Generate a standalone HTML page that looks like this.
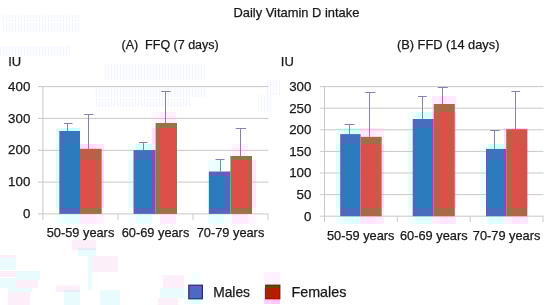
<!DOCTYPE html>
<html><head><meta charset="utf-8"><style>
html,body{margin:0;padding:0;background:#fff;}
body{width:550px;height:305px;overflow:hidden;}
svg{display:block;font-family:"Liberation Sans",sans-serif;}
.t{filter:grayscale(1)}
</style></head><body>
<svg width="550" height="305" viewBox="0 0 550 305" shape-rendering="auto">
<rect width="550" height="305" fill="#fff"/>
<defs><pattern id="gp" width="3" height="4" patternUnits="userSpaceOnUse"><rect width="1" height="4" fill="#e2e6fb"/><rect x="1" width="2" height="4" fill="#fafaff"/></pattern></defs>
<rect x="2" y="15" width="78" height="7" fill="url(#gp)" opacity="0.4"/>
<rect x="2" y="23" width="78" height="9" fill="url(#gp)" opacity="0.4"/>
<rect x="0" y="46" width="70" height="10" fill="url(#gp)" opacity="0.4"/>
<rect x="104" y="64" width="102" height="16" fill="url(#gp)" opacity="0.4"/>
<rect x="95" y="88" width="112" height="9" fill="url(#gp)" opacity="0.4"/>
<rect x="95" y="98" width="95" height="9" fill="url(#gp)" opacity="0.4"/>
<rect x="265" y="80" width="15" height="15" fill="url(#gp)" opacity="0.4"/>
<rect x="258" y="95" width="13" height="17" fill="url(#gp)" opacity="0.4"/>
<path d="M38 86.6H268.5" stroke="#c9c9c9" stroke-width="1"/>
<path d="M38 118.4H268.5" stroke="#c9c9c9" stroke-width="1"/>
<path d="M38 150.3H268.5" stroke="#c9c9c9" stroke-width="1"/>
<path d="M38 182.1H268.5" stroke="#c9c9c9" stroke-width="1"/>
<path d="M38 213.9H268.5" stroke="#c9c9c9" stroke-width="1"/>
<path d="M42.9 86.1V220" stroke="#c9c9c9" stroke-width="1"/>
<path d="M118 213.9V220" stroke="#c9c9c9" stroke-width="1"/>
<path d="M193 213.9V220" stroke="#c9c9c9" stroke-width="1"/>
<path d="M268 213.9V220" stroke="#c9c9c9" stroke-width="1"/>
<path d="M320 86.6H543.5" stroke="#c9c9c9" stroke-width="1"/>
<path d="M320 108.2H543.5" stroke="#c9c9c9" stroke-width="1"/>
<path d="M320 129.8H543.5" stroke="#c9c9c9" stroke-width="1"/>
<path d="M320 151.4H543.5" stroke="#c9c9c9" stroke-width="1"/>
<path d="M320 173.0H543.5" stroke="#c9c9c9" stroke-width="1"/>
<path d="M320 194.6H543.5" stroke="#c9c9c9" stroke-width="1"/>
<path d="M320 216.2H543.5" stroke="#c9c9c9" stroke-width="1"/>
<path d="M324.5 86.1V222" stroke="#c9c9c9" stroke-width="1"/>
<path d="M397.3 216.2V222" stroke="#c9c9c9" stroke-width="1"/>
<path d="M470.2 216.2V222" stroke="#c9c9c9" stroke-width="1"/>
<path d="M543 216.2V222" stroke="#c9c9c9" stroke-width="1"/>
<rect x="59.3" y="131" width="20.7" height="82.9" fill="#2b7cbd"/>
<rect x="80" y="148.8" width="21.7" height="65.1" fill="#dc5049"/>
<path d="M67.5 123.5V131" stroke="#8583b2" stroke-width="1"/>
<path d="M64 123.5H72.5" stroke="#8583b2" stroke-width="1"/>
<path d="M88.5 114.5V148.8" stroke="#8583b2" stroke-width="1"/>
<path d="M84.2 114.5H93.4" stroke="#8583b2" stroke-width="1"/>
<rect x="133.5" y="150.1" width="22.1" height="63.8" fill="#2b7cbd"/>
<rect x="155.6" y="123" width="21.4" height="90.9" fill="#dc5049"/>
<path d="M143.5 142.5V150.1" stroke="#8583b2" stroke-width="1"/>
<path d="M139 142.5H147.5" stroke="#8583b2" stroke-width="1"/>
<path d="M165.5 91.5V123" stroke="#8583b2" stroke-width="1"/>
<path d="M161.2 91.5H170.8" stroke="#8583b2" stroke-width="1"/>
<rect x="208.8" y="171.5" width="21.6" height="42.4" fill="#2b7cbd"/>
<rect x="230.4" y="156" width="21.6" height="57.9" fill="#dc5049"/>
<path d="M220.5 159.5V171.5" stroke="#8583b2" stroke-width="1"/>
<path d="M215.6 159.5H224.5" stroke="#8583b2" stroke-width="1"/>
<path d="M240.5 128.5V156" stroke="#8583b2" stroke-width="1"/>
<path d="M235.7 128.5H246.1" stroke="#8583b2" stroke-width="1"/>
<rect x="340.2" y="134.1" width="20.4" height="82.1" fill="#2b7cbd"/>
<rect x="360.6" y="136.8" width="21.1" height="79.4" fill="#dc5049"/>
<path d="M349.5 124.5V134.1" stroke="#8583b2" stroke-width="1"/>
<path d="M344.6 124.5H354.6" stroke="#8583b2" stroke-width="1"/>
<path d="M369.5 92.5V136.8" stroke="#8583b2" stroke-width="1"/>
<path d="M365 92.5H375.4" stroke="#8583b2" stroke-width="1"/>
<rect x="412.7" y="119" width="21.0" height="97.2" fill="#2b7cbd"/>
<rect x="433.7" y="104" width="21.1" height="112.2" fill="#dc5049"/>
<path d="M422.5 96.5V119" stroke="#8583b2" stroke-width="1"/>
<path d="M418 96.5H426.8" stroke="#8583b2" stroke-width="1"/>
<path d="M442.5 87.5V104" stroke="#8583b2" stroke-width="1"/>
<path d="M437.7 87.5H447.8" stroke="#8583b2" stroke-width="1"/>
<rect x="486" y="148.9" width="20.2" height="67.3" fill="#2b7cbd"/>
<rect x="506.2" y="129.2" width="21.1" height="87.0" fill="#dc5049"/>
<path d="M494.5 130.5V148.9" stroke="#8583b2" stroke-width="1"/>
<path d="M490.2 130.5H499.6" stroke="#8583b2" stroke-width="1"/>
<path d="M515.5 91.5V129.2" stroke="#8583b2" stroke-width="1"/>
<path d="M511.4 91.5H520" stroke="#8583b2" stroke-width="1"/>
<rect x="188.8" y="285.2" width="13.6" height="13.6" fill="#3a74c4" stroke="#232f70" stroke-width="1.2"/>
<rect x="265.6" y="285" width="14.4" height="14" fill="#f00000" stroke="#701008" stroke-width="0.8"/>
<g shape-rendering="crispEdges"><path fill="#feeafe" d="M432 96h8v8h-8zM448 96h8v8h-8zM432 104h1v3h-1zM455 104h1v3h-1zM432 109h1v3h-1zM455 109h1v3h-1zM360 128h8v1h-8zM360 131h8v3h-8zM361 134h7v2h-7z"/><path fill="#fee6fe" d="M440 96h2v8h-2zM443 96h5v8h-5zM96 144h8v4h-8zM102 148h2v1h-2zM102 151h2v9h-2zM252 160h4v21h-4zM252 183h4v25h-4zM520 217h8v7h-8z"/><path fill="#ba68b2" d="M442 96h1v8h-1z"/><path fill="#fec6c8" d="M433 104h1v3h-1zM433 109h1v3h-1z"/><path fill="#bc846c" d="M454 104h1v3h-1zM454 109h1v3h-1z"/><path fill="#fedaee" d="M432 107h1v1h-1zM360 130h8v1h-8z"/><path fill="#f2babc" d="M433 107h1v1h-1z"/><path fill="#ba8268" d="M454 107h1v1h-1zM454 215h1v1h-1z"/><path fill="#fed8ee" d="M455 107h1v1h-1zM368 130h1v1h-1zM370 130h6v1h-6zM455 215h1v1h-1z"/><path fill="#fec4d8" d="M432 108h1v1h-1zM455 108h1v1h-1zM360 129h8v1h-8z"/><path fill="#e2aaac" d="M433 108h1v1h-1z"/><path fill="#b67e64" d="M454 108h1v1h-1z"/><path fill="#a06e48" d="M434 104h6v8h-6zM361 137h7v7h-7z"/><path fill="#aa6848" d="M440 104h8v8h-8zM96 149h5v11h-5zM248 160h4v48h-4z"/><path fill="#a26c48" d="M448 104h6v8h-6z"/><path fill="#fef6fe" d="M152 112h8v5h-8zM152 119h8v4h-8zM152 123h3v5h-3zM252 208h4v5h-4zM248 215h8v9h-8z"/><path fill="#feeefe" d="M160 112h5v5h-5zM166 112h10v5h-10zM160 119h5v4h-5zM166 119h10v4h-10zM376 128h8v1h-8zM376 131h8v5h-8zM382 136h2v8h-2zM432 217h8v7h-8z"/><path fill="#fef0f8" d="M152 117h8v1h-8z"/><path fill="#fee8f8" d="M160 117h5v1h-5zM166 117h10v1h-10z"/><path fill="#dec4ce" d="M152 118h8v1h-8z"/><path fill="#ecbece" d="M160 118h5v1h-5zM166 118h10v1h-10z"/><path fill="#f0fefe" d="M408 112h8v7h-8zM408 119h4v9h-4zM56 208h3v5h-3zM408 208h4v7h-4zM56 215h8v9h-8zM408 217h8v7h-8z"/><path fill="#dafefe" d="M416 112h6v7h-6zM423 112h9v7h-9z"/><path fill="#6492b2" d="M422 112h1v7h-1z"/><path fill="#fedafe" d="M432 112h1v7h-1zM382 144h2v6h-2zM382 152h2v20h-2zM102 160h2v21h-2zM382 174h2v20h-2zM102 183h2v25h-2zM382 196h2v12h-2z"/><path fill="#feb4c8" d="M433 112h1v7h-1z"/><path fill="#a870b2" d="M165 112h1v11h-1z"/><path fill="#dac4b6" d="M155 123h1v5h-1z"/><path fill="#8a7a48" d="M156 123h4v5h-4z"/><path fill="#987248" d="M160 123h16v5h-16zM376 137h5v7h-5z"/><path fill="#7c8048" d="M176 123h1v5h-1z"/><path fill="#5c62bc" d="M413 119h3v9h-3zM60 208h4v5h-4zM341 208h3v8h-3z"/><path fill="#466ebc" d="M416 119h16v9h-16z"/><path fill="#b236bc" d="M432 119h1v9h-1z"/><path fill="#d464a6" d="M433 119h1v9h-1z"/><path fill="#c05e48" d="M434 112h6v16h-6zM96 160h5v48h-5zM376 144h5v64h-5z"/><path fill="#ecfefe" d="M336 128h8v1h-8zM336 131h8v3h-8zM336 134h4v10h-4zM216 160h4v11h-4zM221 160h3v11h-3z"/><path fill="#d6fefe" d="M344 128h5v1h-5zM350 128h10v1h-10zM344 131h5v3h-5zM350 131h10v3h-10zM136 144h7v5h-7zM144 144h8v5h-8z"/><path fill="#fee8fe" d="M368 128h1v1h-1zM370 128h6v1h-6zM368 131h1v5h-1zM370 131h6v5h-6zM455 208h1v7h-1zM360 217h8v7h-8zM448 217h8v7h-8z"/><path fill="#e4fefe" d="M408 128h4v1h-4zM408 131h4v19h-4zM408 152h4v20h-4zM408 174h4v20h-4zM408 196h4v12h-4z"/><path fill="#b8daea" d="M412 128h1v1h-1zM412 131h1v19h-1zM412 152h1v20h-1zM412 174h1v20h-1zM412 196h1v12h-1z"/><path fill="#d066a6" d="M433 128h1v1h-1zM433 131h1v19h-1zM433 152h1v20h-1zM433 174h1v20h-1zM433 196h1v12h-1z"/><path fill="#fed4fe" d="M455 112h1v17h-1zM520 128h8v1h-8zM455 131h1v19h-1zM455 152h1v20h-1zM455 174h1v20h-1zM455 196h1v12h-1z"/><path fill="#fedcfe" d="M504 128h8v1h-8zM504 131h2v13h-2zM80 144h8v4h-8zM89 144h7v4h-7z"/><path fill="#fed0fe" d="M512 128h3v1h-3zM516 128h4v1h-4zM264 288h1v12h-1zM264 300h8v4h-8z"/><path fill="#e452b2" d="M515 128h1v1h-1z"/><path fill="#c6e2d8" d="M336 129h8v1h-8z"/><path fill="#b0ecd8" d="M344 129h5v1h-5zM350 129h10v1h-10z"/><path fill="#fec2d8" d="M368 129h1v1h-1zM370 129h6v1h-6zM455 216h1v1h-1z"/><path fill="#f8c8d8" d="M376 129h8v1h-8z"/><path fill="#bee6d8" d="M408 129h4v1h-4z"/><path fill="#9cc0d0" d="M412 129h1v1h-1z"/><path fill="#c8609e" d="M433 129h1v1h-1z"/><path fill="#feaed8" d="M455 129h1v1h-1z"/><path fill="#feb6d8" d="M504 129h2v1h-2z"/><path fill="#ce7264" d="M507 129h5v1h-5z"/><path fill="#e86464" d="M512 129h3v1h-3zM516 129h4v1h-4z"/><path fill="#e66072" d="M515 129h1v1h-1z"/><path fill="#fe9ab6" d="M527 129h1v1h-1z"/><path fill="#e0fefe" d="M56 128h8v3h-8zM56 131h3v13h-3zM336 144h4v6h-4zM336 152h4v20h-4zM336 174h4v20h-4zM336 196h4v12h-4z"/><path fill="#cafefe" d="M64 128h3v3h-3zM68 128h12v3h-12z"/><path fill="#549cb2" d="M67 128h1v3h-1z"/><path fill="#dcf8ee" d="M336 130h8v1h-8z"/><path fill="#c6feee" d="M344 130h5v1h-5zM350 130h10v1h-10z"/><path fill="#fedeee" d="M376 130h8v1h-8z"/><path fill="#d4fcee" d="M408 130h4v1h-4z"/><path fill="#acd0e0" d="M412 130h1v1h-1z"/><path fill="#cc64a2" d="M433 130h1v1h-1z"/><path fill="#fec4ee" d="M455 130h1v1h-1z"/><path fill="#feccee" d="M504 130h2v1h-2z"/><path fill="#d27668" d="M506 130h1v1h-1z"/><path fill="#fea4bc" d="M527 130h1v1h-1z"/><path fill="#6094b2" d="M349 128h1v6h-1zM143 144h1v6h-1z"/><path fill="#8092ce" d="M340 134h1v1h-1z"/><path fill="#6674c2" d="M341 134h3v1h-3z"/><path fill="#507ec2" d="M344 134h5v1h-5zM350 134h10v1h-10z"/><path fill="#5280c0" d="M349 134h1v1h-1z"/><path fill="#d692da" d="M360 134h1v1h-1z"/><path fill="#cc88d6" d="M360 135h1v1h-1z"/><path fill="#b46ab2" d="M369 128h1v8h-1z"/><path fill="#c886ca" d="M360 136h1v1h-1z"/><path fill="#fed2da" d="M361 136h7v1h-7z"/><path fill="#fed0da" d="M368 136h1v1h-1zM370 136h6v1h-6z"/><path fill="#c67eba" d="M369 136h1v1h-1z"/><path fill="#fed6da" d="M376 136h5v1h-5z"/><path fill="#fedee6" d="M381 136h1v1h-1z"/><path fill="#789cd0" d="M59 131h1v13h-1z"/><path fill="#4c6abc" d="M60 131h4v13h-4zM341 144h3v64h-3z"/><path fill="#3676bc" d="M64 131h16v13h-16z"/><path fill="#fee2fe" d="M152 128h3v16h-3z"/><path fill="#feb0b6" d="M155 128h1v16h-1z"/><path fill="#ae6648" d="M156 128h4v16h-4z"/><path fill="#7484ca" d="M340 135h1v9h-1z"/><path fill="#5864bc" d="M341 135h3v9h-3zM216 172h8v4h-8z"/><path fill="#4270bc" d="M344 135h16v9h-16zM136 151h16v9h-16z"/><path fill="#ba7e9e" d="M360 137h1v7h-1z"/><path fill="#a46c48" d="M368 137h8v7h-8zM448 208h6v8h-6z"/><path fill="#c0967e" d="M381 137h1v7h-1z"/><path fill="#d6786c" d="M506 131h1v13h-1z"/><path fill="#bc6048" d="M507 130h5v14h-5z"/><path fill="#d45448" d="M512 130h8v14h-8z"/><path fill="#cc5848" d="M520 130h7v14h-7zM448 112h6v96h-6z"/><path fill="#feaec8" d="M527 131h1v13h-1z"/><path fill="#ce5eb2" d="M88 144h1v4h-1z"/><path fill="#f4fefe" d="M480 144h8v4h-8zM480 148h6v2h-6zM480 152h6v8h-6zM224 215h8v9h-8z"/><path fill="#d2fefe" d="M488 144h6v4h-6zM495 144h9v4h-9z"/><path fill="#5c98b2" d="M494 144h1v4h-1z"/><path fill="#fee0fe" d="M504 144h2v4h-2z"/><path fill="#d8fefe" d="M56 144h3v5h-3zM56 151h3v30h-3zM56 183h3v25h-3z"/><path fill="#709ed0" d="M59 144h1v5h-1zM59 151h1v30h-1zM59 183h1v25h-1z"/><path fill="#fec2da" d="M80 148h8v1h-8zM89 148h7v1h-7z"/><path fill="#e072ba" d="M88 148h1v1h-1z"/><path fill="#feccda" d="M96 148h5v1h-5z"/><path fill="#fed4e6" d="M101 148h1v1h-1z"/><path fill="#f2fefe" d="M128 144h8v5h-8zM128 151h5v9h-5zM184 288h4v12h-4zM184 300h8v4h-8z"/><path fill="#feecfe" d="M152 144h3v5h-3zM382 208h2v7h-2zM80 215h16v9h-16zM160 215h16v9h-16zM232 215h16v9h-16zM376 217h8v7h-8z"/><path fill="#fef2fe" d="M232 144h8v5h-8zM241 144h7v5h-7zM232 151h8v5h-8zM241 151h7v5h-7zM102 208h2v5h-2zM96 215h8v9h-8zM264 272h8v12h-8zM264 284h1v4h-1z"/><path fill="#c2fef8" d="M488 148h6v1h-6zM495 148h9v1h-9z"/><path fill="#68a4ba" d="M494 148h1v1h-1z"/><path fill="#fed0f8" d="M504 148h2v1h-2z"/><path fill="#d07c6c" d="M506 144h1v5h-1z"/><path fill="#cefef4" d="M56 149h3v1h-3z"/><path fill="#6e9ccc" d="M59 149h1v1h-1z"/><path fill="#ce8a7c" d="M101 149h1v1h-1z"/><path fill="#fedaf4" d="M102 149h2v1h-2z"/><path fill="#e8faf4" d="M128 149h8v1h-8z"/><path fill="#ccfef4" d="M136 149h7v1h-7zM144 149h8v1h-8z"/><path fill="#fee0f4" d="M152 149h3v1h-3z"/><path fill="#feeef4" d="M177 149h7v1h-7zM248 149h8v1h-8z"/><path fill="#f8f0f4" d="M224 149h8v1h-8z"/><path fill="#fee6f4" d="M232 149h8v1h-8z"/><path fill="#fee8f4" d="M241 149h7v1h-7z"/><path fill="#688aca" d="M340 144h1v6h-1zM340 152h1v20h-1zM340 174h1v20h-1zM340 196h1v12h-1z"/><path fill="#ec649e" d="M360 144h1v6h-1zM360 152h1v20h-1zM360 174h1v20h-1zM360 196h1v12h-1z"/><path fill="#ca766a" d="M506 149h1v1h-1zM506 152h1v8h-1z"/><path fill="#feaac8" d="M527 144h1v6h-1zM527 152h1v20h-1zM527 174h1v20h-1zM527 196h1v12h-1z"/><path fill="#ace6d2" d="M56 150h3v1h-3z"/><path fill="#6492c2" d="M59 150h1v1h-1z"/><path fill="#c48072" d="M101 150h1v1h-1z"/><path fill="#febad2" d="M102 150h2v1h-2z"/><path fill="#c6d8d2" d="M128 150h5v1h-5z"/><path fill="#98a2c8" d="M133 150h1v1h-1z"/><path fill="#686cbe" d="M134 150h2v1h-2z"/><path fill="#4c7abe" d="M136 150h7v1h-7zM144 150h8v1h-8z"/><path fill="#4e7cbc" d="M143 150h1v1h-1z"/><path fill="#9a52be" d="M152 150h3v1h-3z"/><path fill="#b27894" d="M155 150h1v1h-1z"/><path fill="#deccd2" d="M177 150h7v1h-7zM248 150h8v1h-8z"/><path fill="#d8d0d2" d="M224 150h8v1h-8z"/><path fill="#ecc6d2" d="M232 150h8v1h-8z"/><path fill="#eac6d2" d="M241 150h7v1h-7z"/><path fill="#dafef8" d="M336 150h4v1h-4z"/><path fill="#6888c8" d="M340 150h1v1h-1zM340 195h1v1h-1z"/><path fill="#ea629c" d="M360 150h1v1h-1zM360 195h1v1h-1z"/><path fill="#fed4f8" d="M382 150h2v1h-2z"/><path fill="#defef8" d="M408 150h4v1h-4z"/><path fill="#b4d6e6" d="M412 150h1v1h-1zM412 195h1v1h-1z"/><path fill="#ce66a6" d="M433 150h1v1h-1zM433 195h1v1h-1z"/><path fill="#fecef8" d="M455 150h1v1h-1z"/><path fill="#eefef8" d="M480 150h6v1h-6z"/><path fill="#c87468" d="M506 150h1v1h-1z"/><path fill="#fea6c4" d="M527 150h1v1h-1zM527 195h1v1h-1z"/><path fill="#aedece" d="M336 151h4v1h-4zM336 194h4v1h-4z"/><path fill="#6080c0" d="M340 151h1v1h-1zM340 194h1v1h-1z"/><path fill="#e05892" d="M360 151h1v1h-1zM360 194h1v1h-1z"/><path fill="#feaace" d="M382 151h2v1h-2zM382 194h2v1h-2z"/><path fill="#b4dace" d="M408 151h4v1h-4zM408 194h4v1h-4z"/><path fill="#96b8c8" d="M412 151h1v1h-1zM412 194h1v1h-1z"/><path fill="#c45c9c" d="M433 151h1v1h-1zM433 194h1v1h-1z"/><path fill="#fea2ce" d="M455 151h1v1h-1zM455 194h1v1h-1z"/><path fill="#c2d4ce" d="M480 151h6v1h-6z"/><path fill="#c26e62" d="M506 151h1v1h-1z"/><path fill="#fe88a6" d="M527 151h1v1h-1zM527 194h1v1h-1z"/><path fill="#a074b2" d="M240 144h1v12h-1z"/><path fill="#be5e48" d="M80 149h16v11h-16z"/><path fill="#d28e7e" d="M101 151h1v9h-1z"/><path fill="#a8b2de" d="M133 151h1v9h-1z"/><path fill="#5e62bc" d="M134 151h2v9h-2zM413 208h3v8h-3z"/><path fill="#9048bc" d="M152 151h3v9h-3z"/><path fill="#b87e9e" d="M155 151h1v9h-1z"/><path fill="#9e6e48" d="M156 144h4v16h-4z"/><path fill="#c8bcd8" d="M224 159h1v1h-1z"/><path fill="#b2b090" d="M230 156h1v4h-1z"/><path fill="#7e8048" d="M231 156h1v4h-1zM176 208h1v5h-1z"/><path fill="#927648" d="M232 156h8v4h-8z"/><path fill="#907648" d="M240 156h8v4h-8z"/><path fill="#847c48" d="M248 156h4v4h-4zM176 128h1v80h-1z"/><path fill="#6060bc" d="M486 149h2v11h-2zM224 208h6v5h-6z"/><path fill="#3e72bc" d="M488 149h16v11h-16z"/><path fill="#a83cbc" d="M504 149h2v11h-2z"/><path fill="#b66448" d="M507 144h5v16h-5z"/><path fill="#eefefe" d="M208 160h8v11h-8zM480 160h6v12h-6zM480 174h6v20h-6zM480 196h6v12h-6zM336 208h4v7h-4zM336 217h8v7h-8z"/><path fill="#768ab2" d="M220 160h1v11h-1z"/><path fill="#b4b090" d="M230 160h1v11h-1z"/><path fill="#e0f6f8" d="M208 171h1v1h-1z"/><path fill="#a4b4de" d="M209 171h7v1h-7z"/><path fill="#a2b6de" d="M216 171h4v1h-4zM221 171h3v1h-3z"/><path fill="#baa8de" d="M224 171h6v1h-6z"/><path fill="#a8a48c" d="M230 171h1v1h-1z"/><path fill="#c4786a" d="M506 160h1v12h-1zM506 174h1v20h-1zM506 196h1v12h-1z"/><path fill="#c4f4e4" d="M336 172h4v2h-4z"/><path fill="#6484c4" d="M340 172h1v2h-1z"/><path fill="#e65e96" d="M360 172h1v2h-1z"/><path fill="#fec0e4" d="M382 172h2v2h-2z"/><path fill="#caf0e4" d="M408 172h4v2h-4z"/><path fill="#a4c8d8" d="M412 172h1v2h-1z"/><path fill="#ca62a0" d="M433 172h1v2h-1z"/><path fill="#feb8e4" d="M455 172h1v2h-1z"/><path fill="#d4ece4" d="M480 172h6v2h-6z"/><path fill="#c07464" d="M506 172h1v2h-1z"/><path fill="#fe98b4" d="M527 172h1v2h-1z"/><path fill="#5a64bc" d="M209 172h7v4h-7z"/><path fill="#7058bc" d="M224 172h6v4h-6z"/><path fill="#9c9686" d="M230 172h1v4h-1z"/><path fill="#7e7e48" d="M231 160h1v16h-1z"/><path fill="#eafefe" d="M128 160h5v21h-5zM128 183h5v25h-5zM208 215h8v9h-8z"/><path fill="#a0b6de" d="M133 160h1v21h-1zM133 183h1v25h-1z"/><path fill="#ae829e" d="M155 160h1v21h-1zM155 183h1v25h-1z"/><path fill="#a8fcf2" d="M208 176h1v5h-1zM208 183h1v25h-1z"/><path fill="#78a886" d="M230 176h1v5h-1zM230 183h1v25h-1z"/><path fill="#c2fce8" d="M56 181h3v1h-3z"/><path fill="#6a98ca" d="M59 181h1v1h-1z"/><path fill="#fec4e8" d="M102 181h2v1h-2z"/><path fill="#d4f2e8" d="M128 181h5v1h-5z"/><path fill="#94acd2" d="M133 181h1v1h-1z"/><path fill="#aa7e98" d="M155 181h1v1h-1z"/><path fill="#f4e2e8" d="M177 181h7v1h-7z"/><path fill="#96eae0" d="M208 181h1v1h-1z"/><path fill="#74a282" d="M230 181h1v1h-1z"/><path fill="#fed0e8" d="M252 181h4v1h-4z"/><path fill="#b8f2de" d="M56 182h3v1h-3z"/><path fill="#6896c6" d="M59 182h1v1h-1z"/><path fill="#febade" d="M102 182h2v1h-2z"/><path fill="#cae8de" d="M128 182h5v1h-5z"/><path fill="#90a6ce" d="M133 182h1v1h-1z"/><path fill="#a87c96" d="M155 182h1v1h-1z"/><path fill="#ead8de" d="M177 182h7v1h-7z"/><path fill="#8ee2d8" d="M208 182h1v1h-1z"/><path fill="#70a07e" d="M230 182h1v1h-1z"/><path fill="#fec6de" d="M252 182h4v1h-4z"/><path fill="#5c9048" d="M231 176h1v16h-1z"/><path fill="#bed6ce" d="M480 194h6v1h-6z"/><path fill="#bc7062" d="M506 194h1v1h-1z"/><path fill="#dafefa" d="M336 195h4v1h-4z"/><path fill="#fed6fa" d="M382 195h2v1h-2z"/><path fill="#e0fefa" d="M408 195h4v1h-4z"/><path fill="#fecefa" d="M455 195h1v1h-1z"/><path fill="#eafefa" d="M480 195h6v1h-6z"/><path fill="#c47668" d="M506 195h1v1h-1z"/><path fill="#446ebc" d="M60 144h4v64h-4z"/><path fill="#5666bc" d="M134 160h2v48h-2zM209 208h7v5h-7z"/><path fill="#864cbc" d="M152 160h3v48h-3z"/><path fill="#947448" d="M156 160h4v48h-4zM507 208h5v8h-5z"/><path fill="#3078bc" d="M209 176h7v32h-7z"/><path fill="#4e6abc" d="M224 176h6v32h-6z"/><path fill="#5a9048" d="M231 192h1v16h-1z"/><path fill="#d25448" d="M361 144h7v64h-7zM520 144h7v64h-7z"/><path fill="#5068bc" d="M413 128h3v80h-3z"/><path fill="#ac3abc" d="M432 128h1v80h-1z"/><path fill="#ba6048" d="M434 128h6v80h-6z"/><path fill="#5a62bc" d="M486 160h2v48h-2z"/><path fill="#a23ebc" d="M504 160h2v48h-2z"/><path fill="#b06648" d="M507 160h5v48h-5z"/><path fill="#8892d0" d="M59 208h1v5h-1z"/><path fill="#5466bc" d="M64 208h16v5h-16zM136 208h16v5h-16zM216 208h8v5h-8z"/><path fill="#9e7048" d="M80 208h16v5h-16zM160 208h16v5h-16zM232 208h16v5h-16z"/><path fill="#927448" d="M96 208h5v5h-5z"/><path fill="#ba9a7e" d="M101 208h1v5h-1z"/><path fill="#f8fefe" d="M128 208h5v5h-5zM128 215h8v9h-8z"/><path fill="#acb0de" d="M133 208h1v5h-1z"/><path fill="#645ebc" d="M134 208h2v5h-2z"/><path fill="#7456bc" d="M152 208h3v5h-3z"/><path fill="#9e8c9e" d="M155 208h1v5h-1z"/><path fill="#827c48" d="M156 208h4v5h-4z"/><path fill="#cce8f2" d="M208 208h1v5h-1z"/><path fill="#8a9e86" d="M230 208h1v5h-1z"/><path fill="#6e8848" d="M231 208h1v5h-1z"/><path fill="#8a7848" d="M248 208h4v5h-4z"/><path fill="#d0e4de" d="M56 213h3v1h-3z"/><path fill="#8892c8" d="M59 213h1v1h-1z"/><path fill="#686ec0" d="M60 213h4v1h-4z"/><path fill="#5e74c0" d="M64 213h16v1h-16zM136 213h16v1h-16zM216 213h8v1h-8z"/><path fill="#a67856" d="M80 213h16v1h-16zM160 213h16v1h-16zM232 213h16v1h-16z"/><path fill="#9c7e56" d="M96 213h5v1h-5z"/><path fill="#b89680" d="M101 213h1v1h-1z"/><path fill="#f8d0de" d="M102 213h2v1h-2z"/><path fill="#d6e2de" d="M128 213h5v1h-5z"/><path fill="#a2a6ce" d="M133 213h1v1h-1z"/><path fill="#6e6ac0" d="M134 213h2v1h-2z"/><path fill="#8062c0" d="M152 213h3v1h-3z"/><path fill="#8c8656" d="M156 213h4v1h-4z"/><path fill="#868856" d="M176 213h1v1h-1z"/><path fill="#e2dcde" d="M177 213h7v1h-7z"/><path fill="#b2d0d6" d="M208 213h1v1h-1z"/><path fill="#6072c0" d="M209 213h7v1h-7z"/><path fill="#6a6cc0" d="M224 213h6v1h-6z"/><path fill="#889c86" d="M230 213h1v1h-1z"/><path fill="#789056" d="M231 213h1v1h-1z"/><path fill="#948256" d="M248 213h4v1h-4z"/><path fill="#f0d4de" d="M252 213h4v1h-4z"/><path fill="#dcf0ea" d="M56 214h8v1h-8z"/><path fill="#d2f6ea" d="M64 214h16v1h-16zM136 214h16v1h-16zM216 214h8v1h-8z"/><path fill="#fed6ea" d="M80 214h16v1h-16zM160 214h16v1h-16zM232 214h16v1h-16z"/><path fill="#fedcea" d="M96 214h8v1h-8z"/><path fill="#e2eeea" d="M128 214h8v1h-8z"/><path fill="#f4e4ea" d="M152 214h8v1h-8z"/><path fill="#eee8ea" d="M176 214h8v1h-8z"/><path fill="#d4f4ea" d="M208 214h8v1h-8z"/><path fill="#def0ea" d="M224 214h8v1h-8z"/><path fill="#fce0ea" d="M248 214h8v1h-8z"/><path fill="#7882ca" d="M340 208h1v7h-1z"/><path fill="#c07a9e" d="M360 208h1v7h-1z"/><path fill="#c4947e" d="M381 208h1v7h-1z"/><path fill="#c4d4ea" d="M412 208h1v7h-1z"/><path fill="#ae76a6" d="M433 208h1v7h-1z"/><path fill="#be846c" d="M454 208h1v7h-1z"/><path fill="#f6fefe" d="M480 208h6v7h-6zM480 217h8v7h-8zM192 272h8v12h-8zM203 288h5v12h-5zM200 300h8v4h-8z"/><path fill="#aa866a" d="M506 208h1v7h-1z"/><path fill="#fec2c8" d="M527 208h1v7h-1z"/><path fill="#def6ee" d="M336 215h4v1h-4z"/><path fill="#7480c6" d="M340 215h1v1h-1z"/><path fill="#4a6cbc" d="M344 208h16v8h-16zM416 208h16v8h-16zM488 208h16v8h-16z"/><path fill="#bc769a" d="M360 215h1v1h-1z"/><path fill="#a66a48" d="M361 208h7v8h-7zM520 208h7v8h-7z"/><path fill="#ac6848" d="M368 208h8v8h-8zM440 208h8v8h-8zM512 208h8v8h-8z"/><path fill="#9c7048" d="M376 208h5v8h-5z"/><path fill="#c0907a" d="M381 215h1v1h-1z"/><path fill="#fedcee" d="M382 215h2v1h-2z"/><path fill="#e0f4ee" d="M408 215h4v1h-4z"/><path fill="#b8c8de" d="M412 215h1v1h-1z"/><path fill="#8c4abc" d="M432 208h1v8h-1z"/><path fill="#ac74a2" d="M433 215h1v1h-1z"/><path fill="#9a7048" d="M434 208h6v8h-6z"/><path fill="#e6f2ee" d="M480 215h6v1h-6z"/><path fill="#625ebc" d="M486 208h2v8h-2z"/><path fill="#884cbc" d="M504 208h2v8h-2z"/><path fill="#a68266" d="M506 215h1v1h-1z"/><path fill="#f8b6bc" d="M527 215h1v1h-1z"/><path fill="#c8e0d8" d="M336 216h4v1h-4z"/><path fill="#b8ccd4" d="M340 216h1v1h-1z"/><path fill="#a0d0d2" d="M344 216h16v1h-16zM416 216h16v1h-16zM488 216h16v1h-16z"/><path fill="#f2acc8" d="M360 216h1v1h-1z"/><path fill="#f2b0ba" d="M361 216h7v1h-7zM520 216h7v1h-7z"/><path fill="#f8acba" d="M368 216h8v1h-8zM440 216h8v1h-8zM512 216h8v1h-8z"/><path fill="#e8b4ba" d="M376 216h5v1h-5z"/><path fill="#f0bac4" d="M381 216h1v1h-1z"/><path fill="#fcc6d8" d="M382 216h2v1h-2z"/><path fill="#cae0d8" d="M408 216h4v1h-4z"/><path fill="#c4d8d6" d="M412 216h1v1h-1z"/><path fill="#e4aed2" d="M432 216h1v1h-1z"/><path fill="#e6b2cc" d="M433 216h1v1h-1z"/><path fill="#e6b6ba" d="M434 216h6v1h-6z"/><path fill="#f0b0ba" d="M448 216h6v1h-6z"/><path fill="#f4b4c2" d="M454 216h1v1h-1z"/><path fill="#d0dcd8" d="M480 216h6v1h-6z"/><path fill="#bac2d2" d="M486 216h2v1h-2z"/><path fill="#deb0d2" d="M504 216h2v1h-2z"/><path fill="#e2b8c0" d="M506 216h1v1h-1z"/><path fill="#e2b8ba" d="M507 216h5v1h-5z"/><path fill="#febcd0" d="M527 216h1v1h-1z"/><path fill="#e6fefe" d="M64 215h16v9h-16zM136 215h16v9h-16zM216 215h8v9h-8z"/><path fill="#defefe" d="M344 217h16v7h-16zM416 217h16v7h-16zM488 217h16v7h-16zM192 300h8v4h-8z"/><path fill="#fee4fe" d="M368 217h8v7h-8zM440 217h8v7h-8zM512 217h8v7h-8z"/><path fill="#fef0fe" d="M504 217h8v7h-8zM272 272h8v12h-8z"/><path fill="#dcdcd6" d="M280 284h1v1h-1z"/><path fill="#3a327a" d="M189 285h1v1h-1z"/><path fill="#403882" d="M190 285h2v1h-2zM200 285h1v1h-1z"/><path fill="#3c3a82" d="M192 285h8v1h-8z"/><path fill="#3e347e" d="M201 285h1v1h-1z"/><path fill="#543a02" d="M266 285h6v1h-6z"/><path fill="#5a3802" d="M272 285h7v1h-7zM279 286h1v2h-1z"/><path fill="#543004" d="M279 285h1v1h-1z"/><path fill="#524c8a" d="M188 285h1v3h-1z"/><path fill="#5046a2" d="M189 286h1v2h-1z"/><path fill="#685cc4" d="M190 286h2v2h-2zM200 286h1v2h-1z"/><path fill="#645ec4" d="M192 286h8v2h-8z"/><path fill="#5c50b2" d="M201 286h1v2h-1z"/><path fill="#302870" d="M202 285h1v3h-1z"/><path fill="#5e4024" d="M265 285h1v3h-1z"/><path fill="#604800" d="M266 286h6v2h-6z"/><path fill="#664600" d="M272 286h7v2h-7z"/><path fill="#aaac9c" d="M280 285h1v3h-1z"/><path fill="#464aa2" d="M189 288h1v10h-1z"/><path fill="#5e60c4" d="M190 288h2v10h-2z"/><path fill="#4a6ac4" d="M192 288h8v10h-8z"/><path fill="#625ec4" d="M200 288h1v10h-1z"/><path fill="#5654b2" d="M201 288h1v10h-1z"/><path fill="#a42600" d="M266 288h6v10h-6z"/><path fill="#b61c00" d="M272 288h7v10h-7z"/><path fill="#ac0e02" d="M279 288h1v10h-1zM272 298h7v1h-7z"/><path fill="#30367a" d="M189 298h1v1h-1z"/><path fill="#363e82" d="M190 298h2v1h-2z"/><path fill="#224882" d="M192 298h8v1h-8z"/><path fill="#3a3c82" d="M200 298h1v1h-1z"/><path fill="#36387e" d="M201 298h1v1h-1z"/><path fill="#2a2c70" d="M202 288h1v11h-1z"/><path fill="#a21e24" d="M265 288h1v11h-1z"/><path fill="#981802" d="M266 298h6v1h-6z"/><path fill="#a40604" d="M279 298h1v1h-1z"/><path fill="#acac9c" d="M280 288h1v11h-1z"/><path fill="#b2c0d0" d="M188 299h1v1h-1z"/><path fill="#a0aec6" d="M189 299h3v1h-3z"/><path fill="#8cb8c6" d="M192 299h8v1h-8z"/><path fill="#fe8eb0" d="M265 299h1v1h-1z"/><path fill="#fe7e9c" d="M266 299h6v1h-6z"/><path fill="#fe749c" d="M272 299h8v1h-8z"/><path fill="#e0dcd8" d="M280 299h1v1h-1z"/><path fill="#fec6fe" d="M272 300h8v4h-8z"/></g>
<rect x="0" y="255" width="16" height="3" fill="#fdeffa" style="mix-blend-mode:multiply"/>
<rect x="0" y="258" width="16" height="12" fill="#e9fbfd" style="mix-blend-mode:multiply"/>
<rect x="0" y="271" width="16" height="6" fill="#fdeffa" style="mix-blend-mode:multiply"/>
<rect x="16" y="271" width="24" height="9" fill="#e9fbfd" style="mix-blend-mode:multiply"/>
<rect x="0" y="278" width="16" height="10" fill="#e9fbfd" style="mix-blend-mode:multiply"/>
<rect x="16" y="280" width="22" height="8" fill="#fdeffa" style="mix-blend-mode:multiply"/>
<rect x="8" y="288" width="24" height="4" fill="#e9fbfd" style="mix-blend-mode:multiply"/>
<rect x="8" y="292" width="22" height="13" fill="#fdeffa" style="mix-blend-mode:multiply"/>
<rect x="72" y="240" width="24" height="10" fill="#fdeffa" style="mix-blend-mode:multiply"/>
<rect x="78" y="248" width="18" height="8" fill="#e9fbfd" style="mix-blend-mode:multiply"/>
<rect x="64" y="290" width="16" height="15" fill="#e9fbfd" style="mix-blend-mode:multiply"/>
<rect x="56" y="286" width="24" height="6" fill="#fdeffa" style="mix-blend-mode:multiply"/>
<rect x="88" y="256" width="4" height="34" fill="#e9fbfd" style="mix-blend-mode:multiply"/>
<rect x="92" y="256" width="26" height="16" fill="#fdeffa" style="mix-blend-mode:multiply"/>
<rect x="163" y="275" width="21" height="13" fill="#fdeffa" style="mix-blend-mode:multiply"/>
<rect x="160" y="288" width="24" height="10" fill="#e9fbfd" style="mix-blend-mode:multiply"/>
<rect x="158" y="298" width="20" height="7" fill="#fdeffa" style="mix-blend-mode:multiply"/>
<rect x="100" y="290" width="20" height="15" fill="#e9fbfd" style="mix-blend-mode:multiply"/>
<g class="t">
<text x="233.5" y="17" font-size="12.9" text-anchor="start" fill="#181818" stroke="#181818" stroke-width="0.25" xml:space="preserve">Daily Vitamin D intake</text>
<text x="121.5" y="48.5" font-size="12.5" text-anchor="start" fill="#181818" stroke="#181818" stroke-width="0.25" xml:space="preserve">(A)  FFQ (7 days)</text>
<text x="397" y="48.5" font-size="12.8" text-anchor="start" fill="#181818" stroke="#181818" stroke-width="0.25" xml:space="preserve">(B) FFD (14 days)</text>
<text x="8.2" y="66.1" font-size="13" text-anchor="start" fill="#181818" stroke="#181818" stroke-width="0.25" xml:space="preserve">IU</text>
<text x="280.8" y="66.1" font-size="13" text-anchor="start" fill="#181818" stroke="#181818" stroke-width="0.25" xml:space="preserve">IU</text>
<text x="30.3" y="90.7" font-size="13.3" text-anchor="end" fill="#181818" stroke="#181818" stroke-width="0.25" xml:space="preserve">400</text>
<text x="30.3" y="122.5" font-size="13.3" text-anchor="end" fill="#181818" stroke="#181818" stroke-width="0.25" xml:space="preserve">300</text>
<text x="30.3" y="154.4" font-size="13.3" text-anchor="end" fill="#181818" stroke="#181818" stroke-width="0.25" xml:space="preserve">200</text>
<text x="30.3" y="186.2" font-size="13.3" text-anchor="end" fill="#181818" stroke="#181818" stroke-width="0.25" xml:space="preserve">100</text>
<text x="30.3" y="218.0" font-size="13.3" text-anchor="end" fill="#181818" stroke="#181818" stroke-width="0.25" xml:space="preserve">0</text>
<text x="311.4" y="90.9" font-size="13.3" text-anchor="end" fill="#181818" stroke="#181818" stroke-width="0.25" xml:space="preserve">300</text>
<text x="311.4" y="112.5" font-size="13.3" text-anchor="end" fill="#181818" stroke="#181818" stroke-width="0.25" xml:space="preserve">250</text>
<text x="311.4" y="134.1" font-size="13.3" text-anchor="end" fill="#181818" stroke="#181818" stroke-width="0.25" xml:space="preserve">200</text>
<text x="311.4" y="155.7" font-size="13.3" text-anchor="end" fill="#181818" stroke="#181818" stroke-width="0.25" xml:space="preserve">150</text>
<text x="311.4" y="177.3" font-size="13.3" text-anchor="end" fill="#181818" stroke="#181818" stroke-width="0.25" xml:space="preserve">100</text>
<text x="311.4" y="198.9" font-size="13.3" text-anchor="end" fill="#181818" stroke="#181818" stroke-width="0.25" xml:space="preserve">50</text>
<text x="311.4" y="220.5" font-size="13.3" text-anchor="end" fill="#181818" stroke="#181818" stroke-width="0.25" xml:space="preserve">0</text>
<text x="80.5" y="236.7" font-size="12.8" text-anchor="middle" fill="#181818" stroke="#181818" stroke-width="0.25" xml:space="preserve">50-59 years</text>
<text x="155.5" y="236.7" font-size="12.8" text-anchor="middle" fill="#181818" stroke="#181818" stroke-width="0.25" xml:space="preserve">60-69 years</text>
<text x="230.5" y="236.7" font-size="12.8" text-anchor="middle" fill="#181818" stroke="#181818" stroke-width="0.25" xml:space="preserve">70-79 years</text>
<text x="360.7" y="239.5" font-size="12.8" text-anchor="middle" fill="#181818" stroke="#181818" stroke-width="0.25" xml:space="preserve">50-59 years</text>
<text x="433.8" y="239.5" font-size="12.8" text-anchor="middle" fill="#181818" stroke="#181818" stroke-width="0.25" xml:space="preserve">60-69 years</text>
<text x="506.6" y="239.5" font-size="12.8" text-anchor="middle" fill="#181818" stroke="#181818" stroke-width="0.25" xml:space="preserve">70-79 years</text>
<text x="213.2" y="296.8" font-size="13.8" text-anchor="start" fill="#181818" stroke="#181818" stroke-width="0.25" xml:space="preserve">Males</text>
<text x="291.5" y="296.8" font-size="14.3" text-anchor="start" fill="#181818" stroke="#181818" stroke-width="0.25" xml:space="preserve">Females</text>
</g>
</svg>
</body></html>
